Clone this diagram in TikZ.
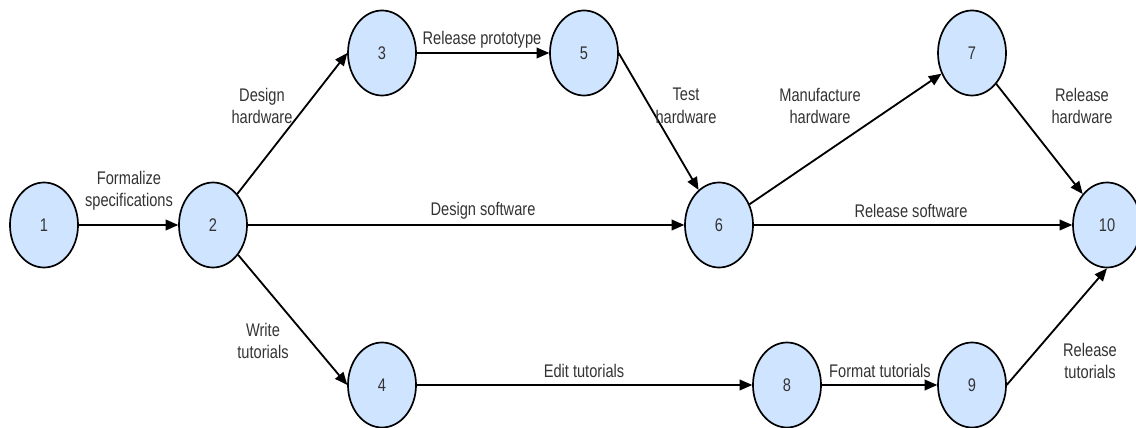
\documentclass[tikz,border=0pt]{standalone}
\usepackage{fontspec}
\setsansfont{Liberation Sans}
\usepackage{tikz}
\usetikzlibrary{arrows.meta}

\definecolor{nodeblue}{RGB}{207,228,255}
\definecolor{labelgray}{RGB}{51,51,51}

\begin{document}
\begin{tikzpicture}[x=0.025cm,y=0.025cm,
                    main node/.style={circle,draw,fill=nodeblue,line width=1.2pt,minimum size=2.125cm,inner sep=0pt,xscale=0.8,font=\sffamily\fontsize{13}{16}\selectfont,text=labelgray},
                    task/.style={font=\sffamily\fontsize{13}{16}\selectfont,text=labelgray,align=center,xscale=0.8},
                    act/.style={-{Triangle[length=9pt,width=7.5pt]},line width=1.3pt}]
 \useasboundingbox (0,0) rectangle (1136,427);

 %Events
 \foreach \n/\x/\y in {1/44/202,2/213/202,3/382/374,4/382/42,5/584/374,6/719/202,7/972/374,8/787/42,9/972/42,10/1107/202}
    \node[main node] (\n) at (\x,\y) {\n};

 %Activities
 \draw[act] (1) -- (2);
 \draw[act] (2) -- (3.west);
 \draw[act] (2) -- (4.west);
 \draw[act] (2) -- (6);
 \draw[act] (3) -- (5);
 \draw[act] (5.east) -- (6);
 \draw[act] (6) -- (7);
 \draw[act] (6) -- (10);
 \draw[act] (7) -- (10);
 \draw[act] (4) -- (8);
 \draw[act] (8) -- (9);
 \draw[act] (9.east) -- (10.south);

 %Activity names
 \node[task] (Formalize) at (129,236) {Formalize\\specifications};
 \node[task] (DesignHw) at (262,321) {Design\\hardware};
 \node[task] (Prototype) at (482,387) {Release prototype};
 \node[task] (TestHw) at (686,321) {Test\\hardware};
 \node[task] (DesignSw) at (483,216) {Design software};
 \node[task] (ManufactureHw) at (820,321) {Manufacture\\hardware};
 \node[task] (ReleaseHw) at (1082,321) {Release\\hardware};
 \node[task] (ReleaseSw) at (911,216) {Release software};
 \node[task] (WriteTut) at (263,86) {Write\\tutorials};
 \node[task] (EditTut) at (584,56) {Edit tutorials};
 \node[task] (FormatTut) at (880,56) {Format tutorials};
 \node[task] (ReleaseTut) at (1090,66) {Release\\tutorials};

\end{tikzpicture}
\end{document}
